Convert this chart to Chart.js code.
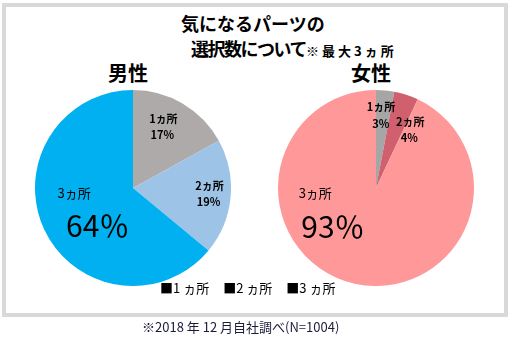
<!DOCTYPE html>
<html lang="ja">
<head>
<meta charset="utf-8">
<script src="https://cdn.jsdelivr.net/npm/chart.js@4/dist/chart.umd.min.js"></script>
<style>
  html, body { margin: 0; padding: 0; background: #fff; }
  body { width: 510px; height: 341px; position: relative; overflow: hidden;
         font-family: "Noto Sans CJK JP", "Noto Sans", sans-serif; color: #000; }
  .frame { position: absolute; left: 2px; top: 3px; width: 506px; height: 314px;
           box-sizing: border-box; border: 4px solid #d9d9d9; }
  .title { position: absolute; font-weight: bold; font-size: 18px; line-height: 1; white-space: nowrap; }
  .title small { font-size: 13px; letter-spacing: 3px; }
  .pie-head { position: absolute; top: 63px; width: 120px; text-align: center;
              font-weight: bold; font-size: 20px; line-height: 1; }
  canvas { position: absolute; }
  .legend { position: absolute; top: 281px; left: 160px; font-size: 13px; line-height: 1; white-space: nowrap; }
  .legend span { margin-right: 14px; }
  .note { position: absolute; top: 320px; left: 142px; font-size: 13px; line-height: 1; color: #1c1c3a; white-space: nowrap; }
</style>
</head>
<body>
<div class="frame"></div>
<div class="title" style="top:14px; left:181px">気になるパーツの</div>
<div class="title" style="top:39px; left:191px"><span style="letter-spacing:-1.5px">選択数について</span><small>※最大3ヵ所</small></div>
<div class="pie-head" style="left:68px">男性</div>
<div class="pie-head" style="left:311px">女性</div>
<canvas id="male-chart" width="196" height="196" style="left:35px; top:90px"></canvas>
<canvas id="female-chart" width="196" height="196" style="left:278px; top:90px"></canvas>
<div class="legend" id="legend"></div>
<div class="note">※2018 年 12 月自社調べ(N=1004)</div>
<script>
const categories = ['1ヵ所', '2ヵ所', '3ヵ所'];
const legendLabels = ['1 ヵ所', '2 ヵ所', '3 ヵ所'];
const maleShares = [17, 19, 64];
const femaleShares = [3, 4, 93];
const maleColors = ['#aeaaaa', '#9dc3e6', '#00b0f0'];
const femaleColors = ['#a6a6a6', '#d0606e', '#ff9999'];

// label spots per slice, in units of the pie radius from its centre
const malePlaces = [
  { name: [0.31, -0.71], value: [0.30, -0.54] },
  { name: [0.78, -0.02], value: [0.77, 0.14] },
  { name: [-0.60, 0.05], value: [-0.36, 0.38], big: true },
];
const femalePlaces = [
  { name: [0.05, -0.83], value: [0.05, -0.65] },
  { name: [0.35, -0.68], value: [0.34, -0.51] },
  { name: [-0.62, 0.05], value: [-0.44, 0.39], big: true },
];

const FONT = '"Noto Sans CJK JP", "Noto Sans", sans-serif';

const sliceLabels = {
  id: 'sliceLabels',
  afterDatasetsDraw(chart, args, opts) {
    const ctx = chart.ctx;
    const values = chart.data.datasets[0].data;
    chart.getDatasetMeta(0).data.forEach((arc, i) => {
      const p = opts.places[i];
      const r = arc.outerRadius;
      ctx.save();
      ctx.fillStyle = '#000';
      ctx.textAlign = 'center';
      ctx.textBaseline = 'middle';
      if (p.big) {
        ctx.font = '13px ' + FONT;
        ctx.fillText(chart.data.labels[i], arc.x + p.name[0] * r, arc.y + p.name[1] * r);
        ctx.font = '30px ' + FONT;
        ctx.fillText(values[i] + '％', arc.x + p.value[0] * r, arc.y + p.value[1] * r);
      } else {
        ctx.font = 'bold 11px ' + FONT;
        ctx.fillText(chart.data.labels[i], arc.x + p.name[0] * r, arc.y + p.name[1] * r);
        ctx.fillText(values[i] + '%', arc.x + p.value[0] * r, arc.y + p.value[1] * r);
      }
      ctx.restore();
    });
  }
};

function makePie(id, shares, colors, places) {
  return new Chart(document.getElementById(id), {
    type: 'pie',
    data: {
      labels: categories,
      datasets: [{
        data: shares,
        backgroundColor: colors,
        borderWidth: 0,
        hoverOffset: 0,
      }],
    },
    options: {
      responsive: false,
      animation: false,
      events: [],
      layout: { padding: 0 },
      plugins: {
        legend: { display: false },
        tooltip: { enabled: false },
        sliceLabels: { places },
      },
    },
    plugins: [sliceLabels],
  });
}

makePie('male-chart', maleShares, maleColors, malePlaces);
makePie('female-chart', femaleShares, femaleColors, femalePlaces);

document.getElementById('legend').innerHTML =
  legendLabels.map(l => `<span>■${l}</span>`).join('');
</script>
</body>
</html>
